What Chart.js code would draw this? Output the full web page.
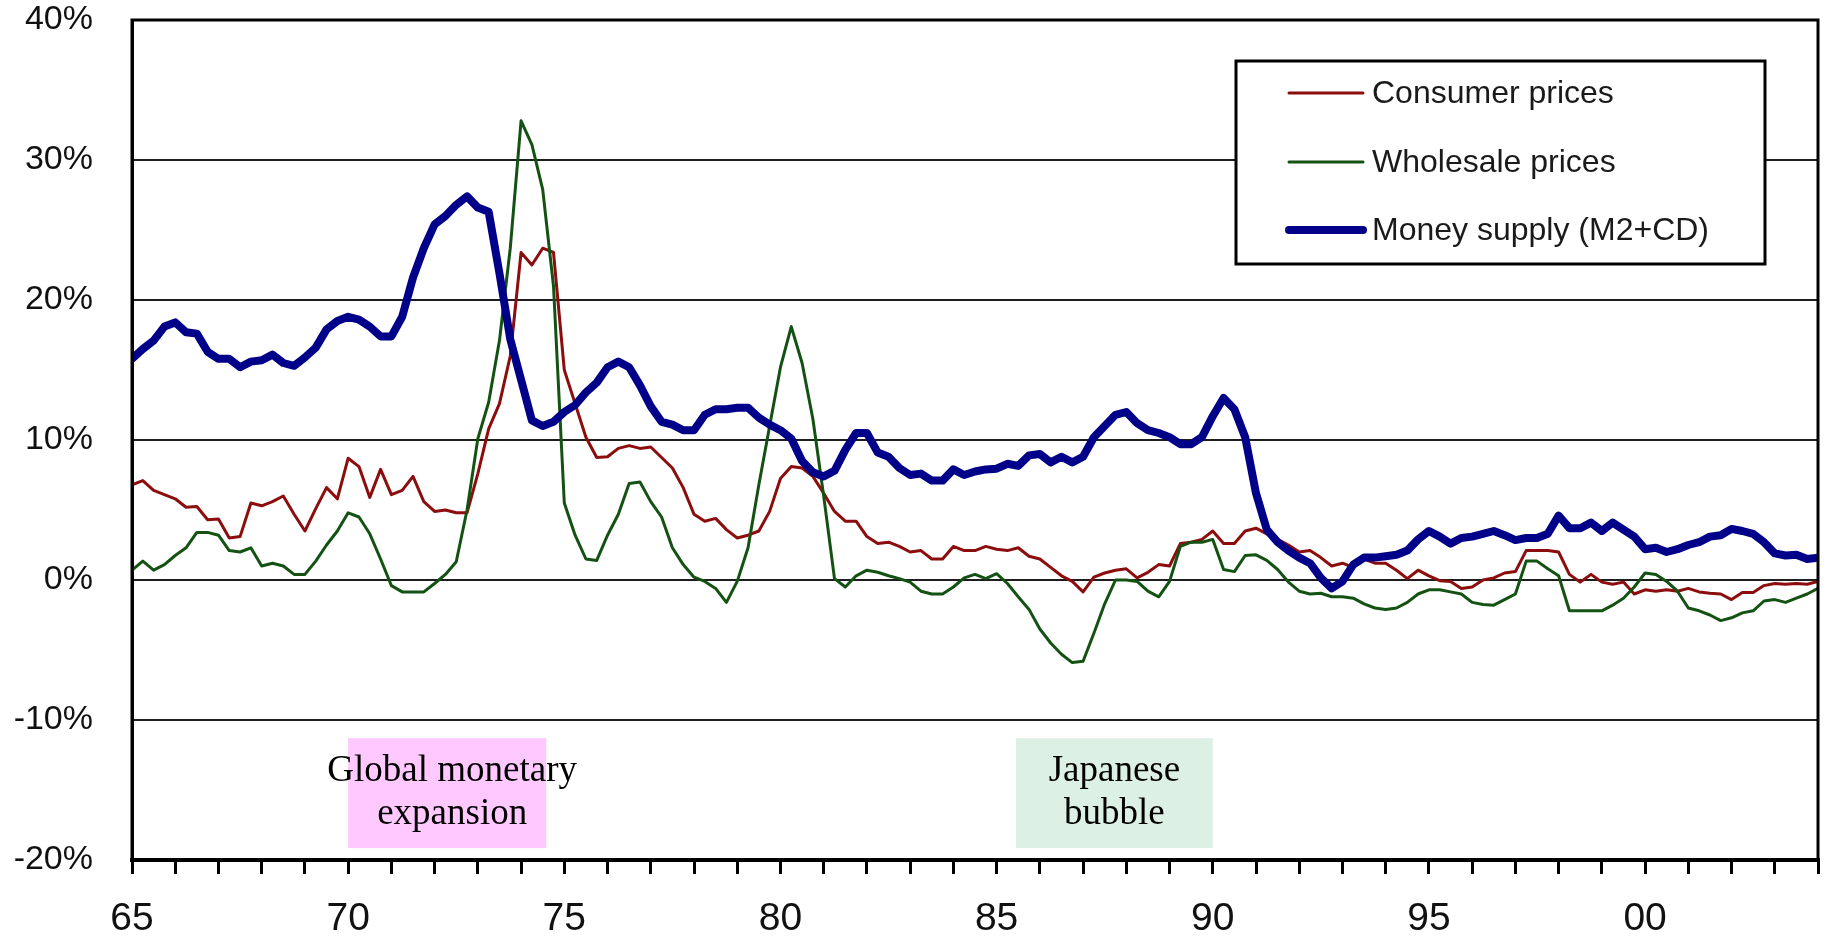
<!DOCTYPE html>
<html>
<head>
<meta charset="utf-8">
<title>Japan: prices and money supply</title>
<script src="https://cdn.jsdelivr.net/npm/chart.js@4.4.1/dist/chart.umd.min.js"></script>
<style>
  html, body { margin: 0; padding: 0; background: #fff; }
  canvas { display: block; }
</style>
</head>
<body>
<canvas id="chart" width="1830" height="941"></canvas>
<script>
// Year-on-year change, %, quarterly from 1965 Q1 to 2004 Q1
const firstYear = 1965;

const consumerPrices = [
  6.8, 7.1, 6.4, 6.1, 5.8, 5.2, 5.25, 4.3, 4.35, 3.0,
  3.1, 5.5, 5.3, 5.6, 6.0, 4.7, 3.5, 5.1, 6.6, 5.8,
  8.7, 8.1, 5.9, 7.9, 6.1, 6.4, 7.4, 5.6, 4.9, 5.0,
  4.8, 4.8, 7.6, 10.8, 12.6, 16.0, 23.4, 22.5, 23.7, 23.4,
  15.0, 12.6, 10.2, 8.75, 8.8, 9.4, 9.6, 9.4, 9.5, 8.75,
  8.0, 6.6, 4.7, 4.2, 4.4, 3.6, 3.0, 3.2, 3.5, 4.9,
  7.25, 8.1, 8.0, 7.4, 6.2, 4.9, 4.2, 4.2, 3.1, 2.6,
  2.7, 2.4, 2.0, 2.1, 1.5, 1.5, 2.4, 2.1, 2.1, 2.4,
  2.2, 2.1, 2.3, 1.7, 1.5, 0.9, 0.3, -0.1, -0.85, 0.2,
  0.5, 0.7, 0.8, 0.15, 0.55, 1.1, 1.0, 2.6, 2.7, 2.9,
  3.5, 2.6, 2.6, 3.5, 3.7, 3.3, 2.9, 2.5, 2.0, 2.1,
  1.6, 1.0, 1.2, 0.9, 1.5, 1.2, 1.2, 0.7, 0.1, 0.7,
  0.3, -0.05, -0.1, -0.6, -0.5, 0.0, 0.15, 0.5, 0.6, 2.1,
  2.1, 2.1, 2.0, 0.4, -0.15, 0.4, -0.15, -0.3, -0.15, -1.0,
  -0.7, -0.8, -0.7, -0.8, -0.6, -0.85, -0.95, -1.0, -1.4, -0.9,
  -0.9, -0.4, -0.25, -0.3, -0.25, -0.3, -0.1
];

const wholesalePrices = [
  0.7, 1.35, 0.7, 1.1, 1.75, 2.3, 3.4, 3.4, 3.2, 2.1,
  2.0, 2.3, 1.0, 1.2, 1.0, 0.4, 0.4, 1.35, 2.5, 3.5,
  4.8, 4.5, 3.3, 1.5, -0.4, -0.85, -0.85, -0.85, -0.25, 0.4,
  1.3, 5.0, 10.1, 12.7, 17.1, 23.7, 32.8, 31.1, 27.9, 21.0,
  5.5, 3.2, 1.5, 1.4, 3.2, 4.7, 6.9, 7.0, 5.6, 4.5,
  2.3, 1.1, 0.2, -0.1, -0.6, -1.6, -0.1, 2.3, 6.8, 11.0,
  15.2, 18.1, 15.5, 11.5, 6.0, 0.1, -0.5, 0.3, 0.7, 0.55,
  0.3, 0.1, -0.15, -0.8, -1.0, -1.0, -0.5, 0.15, 0.4, 0.1,
  0.45, -0.25, -1.2, -2.1, -3.5, -4.5, -5.3, -5.9, -5.8, -3.8,
  -1.7, 0.0, 0.0, -0.1, -0.8, -1.2, -0.1, 2.4, 2.7, 2.7,
  2.9, 0.75, 0.6, 1.75, 1.8, 1.4, 0.75, -0.15, -0.8, -1.0,
  -0.95, -1.2, -1.2, -1.3, -1.7, -2.0, -2.1, -2.0, -1.6, -1.0,
  -0.7, -0.7, -0.85, -1.0, -1.6, -1.75, -1.8, -1.4, -1.0, 1.35,
  1.35, 0.8, 0.3, -2.2, -2.2, -2.2, -2.2, -1.8, -1.3, -0.5,
  0.5, 0.4, -0.1, -0.8, -2.0, -2.2, -2.5, -2.9, -2.7, -2.35,
  -2.2, -1.5, -1.4, -1.6, -1.3, -1.0, -0.6
];

const moneySupply = [
  15.8, 16.5, 17.1, 18.1, 18.4, 17.7, 17.6, 16.3, 15.8, 15.8,
  15.2, 15.6, 15.7, 16.1, 15.5, 15.3, 15.9, 16.6, 17.9, 18.5,
  18.8, 18.6, 18.1, 17.4, 17.4, 18.8, 21.6, 23.7, 25.4, 26.0,
  26.8, 27.4, 26.6, 26.3, 21.9, 17.2, 14.3, 11.4, 11.0, 11.3,
  12.0, 12.5, 13.4, 14.1, 15.2, 15.6, 15.2, 13.9, 12.4, 11.3,
  11.1, 10.7, 10.7, 11.8, 12.2, 12.2, 12.3, 12.3, 11.6, 11.1,
  10.7, 10.1, 8.5, 7.7, 7.4, 7.8, 9.3, 10.5, 10.5, 9.1,
  8.8, 8.0, 7.5, 7.6, 7.1, 7.1, 7.9, 7.5, 7.75, 7.9,
  7.95, 8.3, 8.15, 8.9, 9.0, 8.4, 8.8, 8.4, 8.8, 10.2,
  11.0, 11.8, 12.0, 11.2, 10.7, 10.5, 10.2, 9.7, 9.7, 10.2,
  11.7, 13.0, 12.2, 10.2, 6.2, 3.6, 2.7, 2.1, 1.6, 1.2,
  0.15, -0.6, -0.1, 1.1, 1.6, 1.6, 1.7, 1.8, 2.1, 2.9,
  3.5, 3.1, 2.6, 3.0, 3.1, 3.3, 3.5, 3.2, 2.85, 3.0,
  3.0, 3.3, 4.6, 3.7, 3.7, 4.1, 3.5, 4.1, 3.6, 3.1,
  2.2, 2.3, 2.0, 2.2, 2.5, 2.7, 3.1, 3.2, 3.65, 3.5,
  3.3, 2.7, 1.9, 1.75, 1.8, 1.5, 1.6
];

const seriesNames = ['Consumer prices', 'Wholesale prices', 'Money supply (M2+CD)'];

// Axis range and tick labels
const yearRange = [1965, 2004];
const percentRange = [-20, 40];
const labelledYears = [1965, 1970, 1975, 1980, 1985, 1990, 1995, 2000];
const yearLabels = ['65', '70', '75', '80', '85', '90', '95', '00'];

// Highlighted periods (start year, end year, caption lines)
const periodNames = [['Global monetary', 'expansion'], ['Japanese', 'bubble']];
const periodStart = [1970.0, 1985.45];
const periodEnd = [1974.58, 1990.0];

// Quarter positions on the time axis
const quarterTimes = moneySupply.map((_, i) => firstYear + i / 4);
const toPoints = arr => arr.map((v, i) => ({ x: quarterTimes[i], y: v }));

const FONT = "'Liberation Sans', Arial, sans-serif";
const SERIF = "'Liberation Serif', 'Times New Roman', serif";

// Shaded period boxes with centred captions, under the data lines
const periodBoxes = {
  id: 'periodBoxes',
  beforeDatasetsDraw(chart) {
    const { ctx, scales: { x, y } } = chart;
    const boxColors = ['#ffc8ff', '#dcf0e6'];
    ctx.save();
    periodNames.forEach((lines, k) => {
      const left = x.getPixelForValue(periodStart[k]);
      const right = x.getPixelForValue(periodEnd[k]);
      const top = y.getPixelForValue(-11.3);
      const bottom = y.getPixelForValue(-19.15);
      ctx.fillStyle = boxColors[k];
      ctx.fillRect(left, top, right - left, bottom - top);
      ctx.fillStyle = '#000';
      ctx.font = '37px ' + SERIF;
      ctx.textAlign = 'center';
      ctx.textBaseline = 'alphabetic';
      const cx = k === 0 ? left + (right - left) / 2 + 5 : left + (right - left) / 2;
      lines.forEach((t, j) => ctx.fillText(t, cx, top + 43 + j * 43));
    });
    ctx.restore();
  }
};

// Frame round the plot area and the boxed legend
const frameAndLegend = {
  id: 'frameAndLegend',
  afterDraw(chart) {
    const { ctx, chartArea: a } = chart;
    ctx.save();
    ctx.strokeStyle = '#000';
    ctx.lineWidth = 3;
    ctx.strokeRect(a.left, a.top, a.right - a.left, a.bottom - a.top);

    // legend
    const bx = 1236, by = 61, bw = 529, bh = 203;
    ctx.fillStyle = '#fff';
    ctx.fillRect(bx, by, bw, bh);
    ctx.lineWidth = 3;
    ctx.strokeRect(bx, by, bw, bh);
    const rows = [93, 162, 230];
    chart.data.datasets.forEach((ds, i) => {
      ctx.strokeStyle = ds.borderColor;
      ctx.lineWidth = ds.borderWidth;
      ctx.lineCap = 'round';
      ctx.beginPath();
      ctx.moveTo(1289, rows[i]);
      ctx.lineTo(1363, rows[i]);
      ctx.stroke();
      ctx.fillStyle = '#1a1a1a';
      ctx.font = '32px ' + FONT;
      ctx.textAlign = 'left';
      ctx.textBaseline = 'middle';
      ctx.fillText(ds.label, 1372, rows[i] + 1);
    });
    ctx.restore();
  }
};

new Chart(document.getElementById('chart'), {
  type: 'line',
  data: {
    datasets: [
      { label: seriesNames[0], data: toPoints(consumerPrices), borderColor: '#8b0d0d', borderWidth: 3, order: 3 },
      { label: seriesNames[1], data: toPoints(wholesalePrices), borderColor: '#145214', borderWidth: 3, order: 2 },
      { label: seriesNames[2], data: toPoints(moneySupply), borderColor: '#000088', borderWidth: 8, order: 1 }
    ]
  },
  options: {
    responsive: false,
    devicePixelRatio: 1,
    animation: false,
    events: [],
    elements: {
      point: { radius: 0 },
      line: { tension: 0, borderJoinStyle: 'round', borderCapStyle: 'round', fill: false }
    },
    layout: { padding: { left: 0, right: 12, top: 20, bottom: 0 } },
    plugins: { legend: { display: false }, tooltip: { enabled: false } },
    scales: {
      x: {
        type: 'linear',
        min: yearRange[0],
        max: yearRange[1],
        afterFit: s => { s.height = 81; s.paddingLeft = 0; s.paddingRight = 0; },
        afterBuildTicks: s => {
          const t = [];
          for (let v = yearRange[0]; v <= yearRange[1]; v++) t.push({ value: v });
          s.ticks = t;
        },
        ticks: {
          autoSkip: false,
          maxRotation: 0,
          padding: 22,
          color: '#111',
          font: { family: FONT, size: 39 },
          callback: v => {
            const k = labelledYears.indexOf(Math.round(v));
            return k >= 0 ? yearLabels[k] : '';
          }
        },
        grid: { drawOnChartArea: false, drawTicks: true, tickLength: 14, color: '#000', lineWidth: 3 },
        border: { display: true, color: '#000', width: 4 }
      },
      y: {
        min: percentRange[0],
        max: percentRange[1],
        afterFit: s => { s.width = 132; s.paddingTop = 0; s.paddingBottom = 0; },
        ticks: {
          stepSize: 10,
          padding: 39,
          color: '#111',
          font: { family: FONT, size: 34 },
          callback: v => v + '%'
        },
        grid: { color: '#1e1e1e', lineWidth: 2, drawTicks: false },
        border: { display: true, color: '#000', width: 3 }
      }
    }
  },
  plugins: [periodBoxes, frameAndLegend]
});
</script>
</body>
</html>
